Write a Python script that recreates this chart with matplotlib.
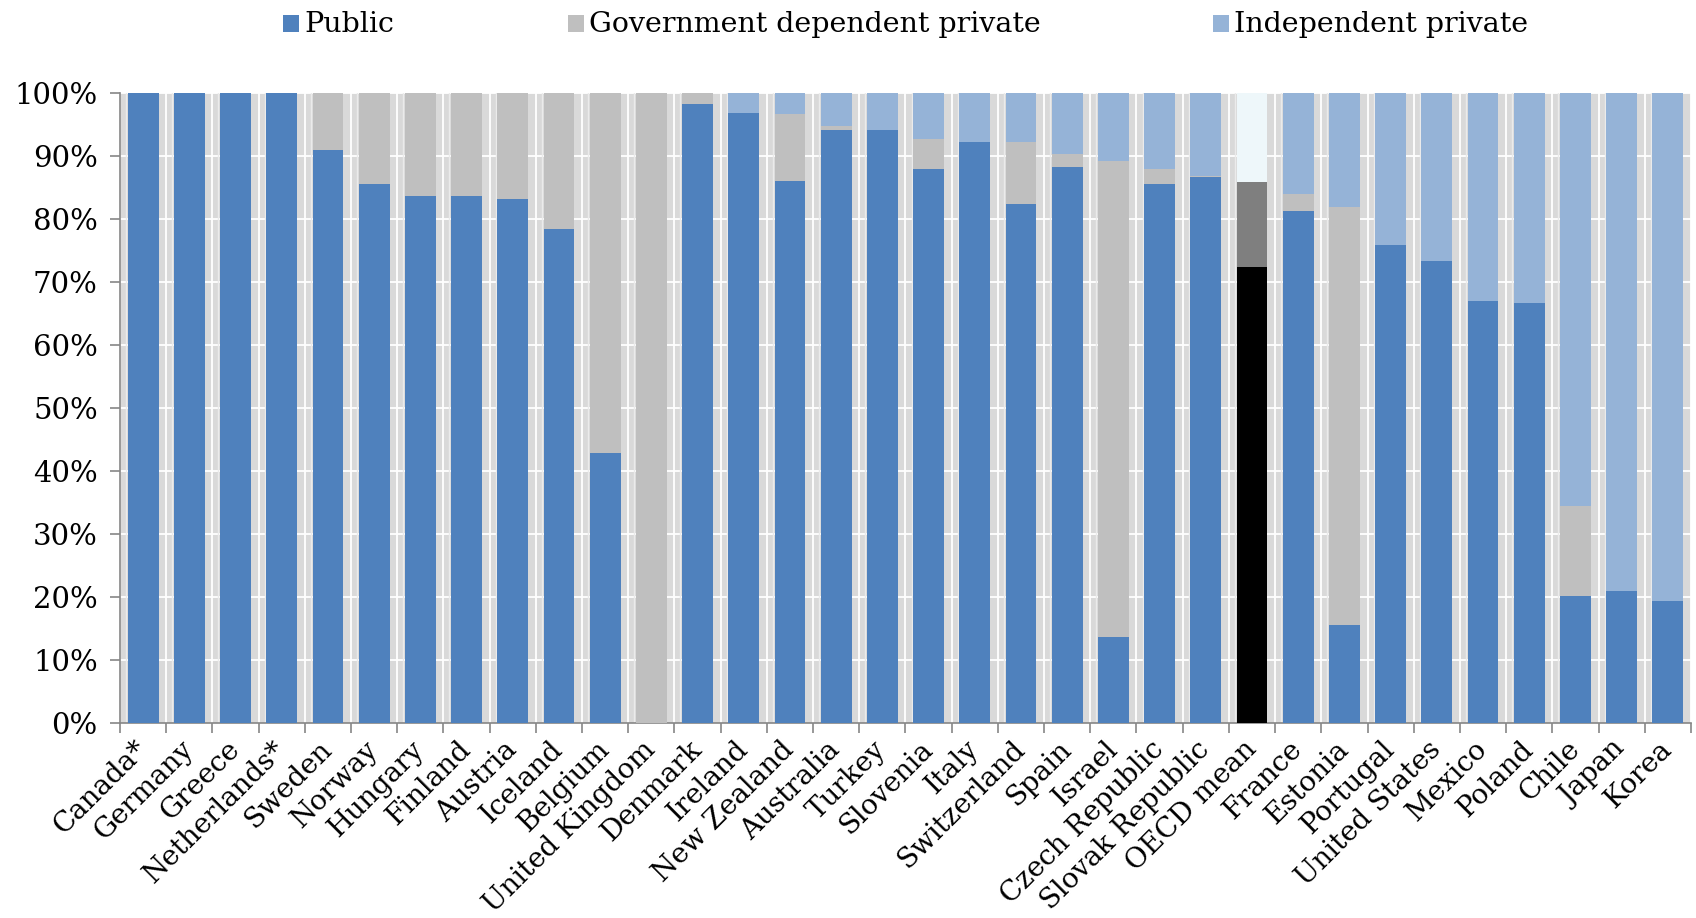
import matplotlib
matplotlib.use("Agg")
import matplotlib.pyplot as plt
from matplotlib.patches import Rectangle
import numpy as np

countries = ["Canada*", "Germany", "Greece", "Netherlands*", "Sweden", "Norway", "Hungary",
             "Finland", "Austria", "Iceland", "Belgium", "United Kingdom", "Denmark", "Ireland",
             "New Zealand", "Australia", "Turkey", "Slovenia", "Italy", "Switzerland", "Spain",
             "Israel", "Czech Republic", "Slovak Republic", "OECD mean", "France", "Estonia",
             "Portugal", "United States", "Mexico", "Poland", "Chile", "Japan", "Korea"]

public = [100, 100, 100, 100, 91.0, 85.5, 83.7, 83.6, 83.2, 78.4, 42.9, 0.0, 98.2, 96.8,
          86.0, 94.1, 94.2, 88.0, 92.3, 82.4, 88.2, 13.7, 85.5, 86.6, 72.4, 81.2, 15.6,
          75.8, 73.3, 67.0, 66.7, 20.1, 21.0, 19.4]
gov_dep = [0, 0, 0, 0, 9.0, 14.5, 16.3, 16.4, 16.8, 21.6, 57.1, 100.0, 1.8, 0.0,
           10.6, 0.7, 0.0, 4.7, 0.0, 9.9, 2.1, 75.5, 2.4, 0.2, 13.5, 2.8, 66.3,
           0.0, 0.0, 0.0, 0.0, 14.4, 0.0, 0.0]
indep = [0, 0, 0, 0, 0, 0, 0, 0, 0, 0, 0, 0, 0, 3.2,
         3.4, 5.2, 5.8, 7.3, 7.7, 7.7, 9.7, 10.8, 12.1, 13.2, 14.1, 16.0, 18.1,
         24.2, 26.7, 33.0, 33.3, 65.5, 79.0, 80.6]
series_names = ["Public", "Government dependent private", "Independent private"]
yticks = [0, 10, 20, 30, 40, 50, 60, 70, 80, 90, 100]

c_pub, c_gov, c_ind = "#4f81bd", "#bfbfbf", "#95b3d7"
oecd_cols = ["#000000", "#7f7f7f", "#eef7fa"]

fig = plt.figure(figsize=(16.96, 9.18), dpi=100)
ax = fig.add_axes([0.0708, 0.2124, 0.9262, 0.6863])
ax.set_facecolor("#d9d9d9")

n = len(countries)
x = np.arange(n)
pub = np.array(public, float)
gov = np.array(gov_dep, float)
ind = np.array(indep, float)
oi = countries.index("OECD mean")
cp = [c_pub] * n; cg = [c_gov] * n; ci = [c_ind] * n
cp[oi], cg[oi], ci[oi] = oecd_cols
w = 0.67
ax.bar(x, pub, w, color=cp, zorder=3)
ax.bar(x, gov, w, bottom=pub, color=cg, zorder=3)
ax.bar(x, ind, w, bottom=pub + gov, color=ci, zorder=3)

ax.set_xlim(-0.5, n - 0.5)
ax.set_ylim(0, 100)
for yv in yticks[1:]:
    ax.axhline(yv, color="white", lw=1.3, zorder=1)
for b in np.arange(n + 1) - 0.5:
    ax.axvline(b, color="white", lw=1.3, zorder=1)
    ax.axvline(b + 0.13, color="#ebebeb", lw=1.0, zorder=1)

ax.set_yticks(yticks)
ax.set_yticklabels([f"{v}%" for v in yticks], fontsize=21, family="DejaVu Serif")
ax.set_xticks(np.arange(n + 1) - 0.5, minor=True)
ax.set_xticks(x)
ax.set_xticklabels(countries, rotation=45, ha="right", va="center", rotation_mode="anchor",
                   fontsize=20, family="DejaVu Serif")
ax.tick_params(axis="x", which="major", length=0, pad=16)
ax.tick_params(axis="x", which="minor", length=7, color="#868686", width=1.2)
ax.tick_params(axis="y", length=7, color="#868686", width=1.2, pad=9)
for s in ["top", "right"]:
    ax.spines[s].set_visible(False)
for s in ["left", "bottom"]:
    ax.spines[s].set_color("#868686")
    ax.spines[s].set_linewidth(1.2)

# legend
W, H = 1696, 918
leg = [(283, c_pub), (568, c_gov), (1213, c_ind)]
for (px, col), name in zip(leg, series_names):
    fig.patches.append(Rectangle((px / W, 1 - 32 / H), 16 / W, 17 / H, transform=fig.transFigure,
                                 facecolor=col, edgecolor="none"))
    fig.text((px + 21) / W, 1 - 24 / H, name, fontsize=20.5, family="DejaVu Serif",
             ha="left", va="center")

fig.savefig("out.png", dpi=100)
